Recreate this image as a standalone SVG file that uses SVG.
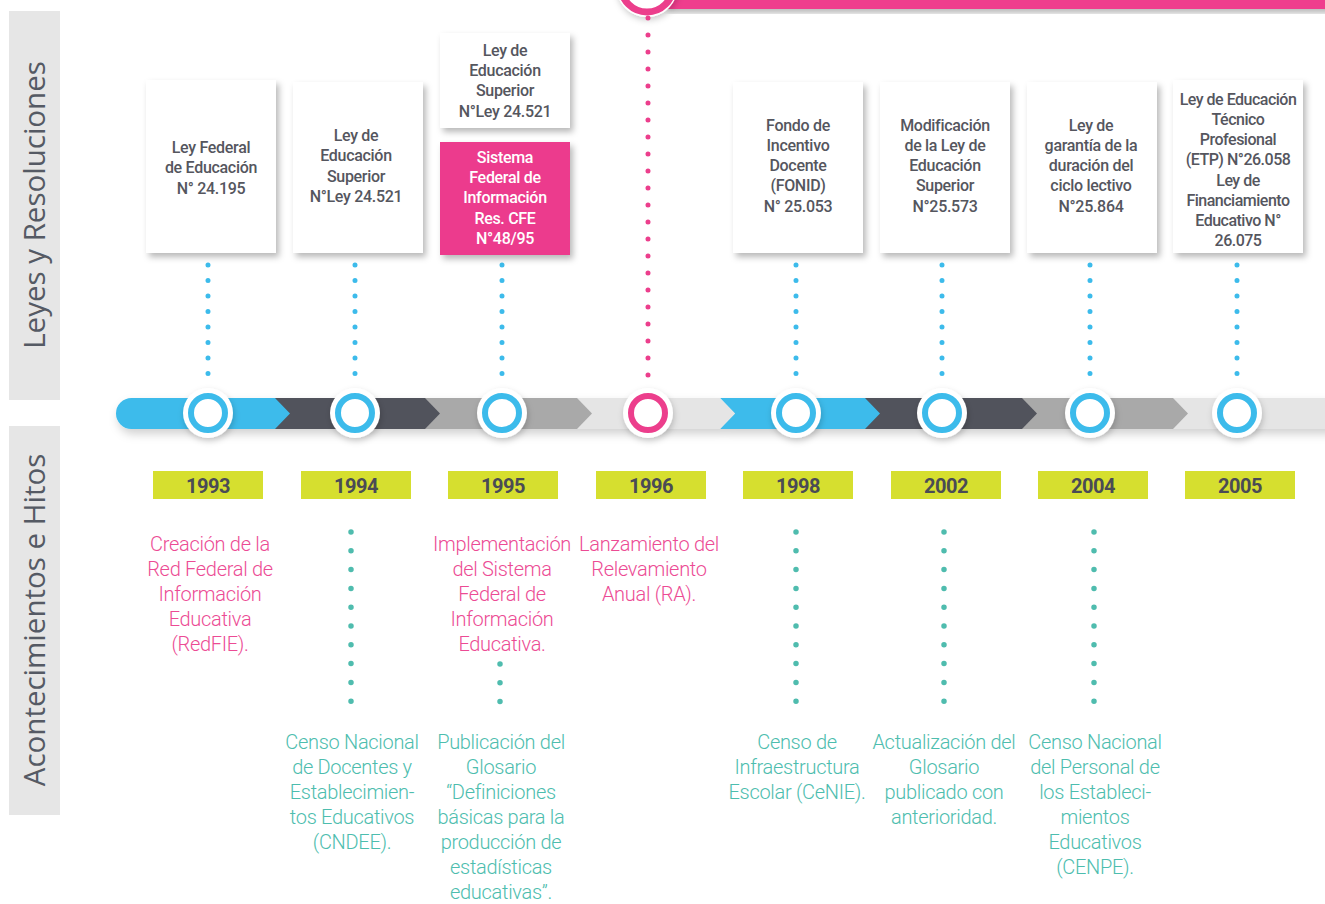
<svg xmlns="http://www.w3.org/2000/svg" width="1325" height="904" viewBox="0 0 1325 904">
<defs>
<filter id="sh" x="-20%" y="-20%" width="150%" height="150%"><feDropShadow dx="3" dy="4" stdDeviation="3" flood-color="#000" flood-opacity="0.28"/></filter>
<filter id="shbar" x="-5%" y="-50%" width="110%" height="250%"><feDropShadow dx="2" dy="5" stdDeviation="5" flood-color="#000" flood-opacity="0.18"/></filter>
<filter id="shc" x="-50%" y="-50%" width="200%" height="200%"><feDropShadow dx="1" dy="3" stdDeviation="3" flood-color="#000" flood-opacity="0.2"/></filter>
</defs>
<style>
.side{fill:#e6e6e6}
.sidet{font-family:"Open Sans",sans-serif;font-weight:400;font-size:29.5px;fill:#555a64;text-anchor:middle}
.box{fill:#fff;filter:url(#sh)}
.pbox{fill:#ec3b8d;filter:url(#sh)}
.bt{font-family:Roboto,sans-serif;font-weight:500;font-size:16px;letter-spacing:-0.3px;fill:#55565e;text-anchor:middle}
.bw{fill:#fff}
.yr{fill:#d6df2f}
.yt{font-family:Roboto,sans-serif;font-weight:700;font-size:20px;letter-spacing:-0.5px;fill:#4a4b55;text-anchor:middle}
.pt{font-family:Roboto,sans-serif;font-weight:300;font-size:20px;letter-spacing:-0.3px;fill:#ec4b94;text-anchor:middle}
.tt{font-family:Roboto,sans-serif;font-weight:300;font-size:20px;letter-spacing:-0.3px;fill:#4dbdae;text-anchor:middle}
.dblue{stroke:#3cbbeb;stroke-width:5;stroke-linecap:round;stroke-dasharray:0 15.5;fill:none}
.dpink{stroke:#ec3e8c;stroke-width:5;stroke-linecap:round;stroke-dasharray:0 17;fill:none}
.dteal{stroke:#4fbcae;stroke-width:5.5;stroke-linecap:round;stroke-dasharray:0 18.8;fill:none}
.cw{fill:#fff;filter:url(#shc)}
.cb{fill:#fff;stroke:#3cbbeb;stroke-width:6}
.cp{fill:#fff;stroke:#ec3e8c;stroke-width:6}
</style>

<!-- side labels -->
<g id="label-leyes">
<rect class="side" x="9" y="11" width="51" height="389"/>
<text class="sidet" transform="translate(45,205) rotate(-90)">Leyes y Resoluciones</text>
</g>
<g id="label-hitos">
<rect class="side" x="9" y="426" width="51" height="389"/>
<text class="sidet" transform="translate(45,620) rotate(-90)">Acontecimientos e Hitos</text>
</g>

<!-- top pink bar -->
<g id="top-bar">
<rect x="665" y="-5" width="665" height="14" fill="#ef3e8d" filter="url(#sh)"/>
<circle cx="647" cy="-14" r="31" fill="#fff" filter="url(#shc)"/>
<circle cx="647" cy="-14" r="26" fill="#fff" stroke="#ec3e8c" stroke-width="7"/>
</g>

<!-- connectors -->
<g id="connectors">
<line class="dblue" x1="208" y1="265" x2="208" y2="382"/>
<line class="dblue" x1="355" y1="265" x2="355" y2="382"/>
<line class="dblue" x1="502" y1="265" x2="502" y2="382"/>
<line class="dpink" x1="648" y1="18" x2="648" y2="382"/>
<line class="dblue" x1="796" y1="265" x2="796" y2="382"/>
<line class="dblue" x1="942" y1="265" x2="942" y2="382"/>
<line class="dblue" x1="1090" y1="265" x2="1090" y2="382"/>
<line class="dblue" x1="1237" y1="265" x2="1237" y2="382"/>
<line class="dteal" x1="351" y1="532" x2="351" y2="702"/>
<line class="dteal" x1="500" y1="664" x2="500" y2="702"/>
<line class="dteal" x1="796" y1="532" x2="796" y2="702"/>
<line class="dteal" x1="944" y1="532" x2="944" y2="702"/>
<line class="dteal" x1="1094" y1="532" x2="1094" y2="702"/>
</g>

<!-- timeline bar -->
<g id="timeline" filter="url(#shbar)">
<rect x="1173" y="398" width="160" height="31" fill="#e5e5e5"/>
<path d="M1022 398H1173L1188 413.5L1173 429H1022Z" fill="#a9a9a9"/>
<path d="M865 398H1022L1037 413.5L1022 429H865Z" fill="#51535c"/>
<path d="M720 398H865L880 413.5L865 429H720L735 413.5Z" fill="#3cbbeb"/>
<path d="M577 398H720L735 413.5L720 429H577Z" fill="#e5e5e5"/>
<path d="M425 398H577L592 413.5L577 429H425Z" fill="#a9a9a9"/>
<path d="M275 398H425L440 413.5L425 429H275Z" fill="#51535c"/>
<path d="M131.5 398H275L290 413.5L275 429H131.5A15.5 15.5 0 0 1 131.5 398Z" fill="#3cbbeb"/>
</g>

<g id="c1993"><circle class="cw" cx="208" cy="413" r="25"/><circle class="cb" cx="208" cy="413" r="17"/></g>
<g id="c1994"><circle class="cw" cx="355" cy="413" r="25"/><circle class="cb" cx="355" cy="413" r="17"/></g>
<g id="c1995"><circle class="cw" cx="502" cy="413" r="25"/><circle class="cb" cx="502" cy="413" r="17"/></g>
<g id="c1996"><circle class="cw" cx="648" cy="413" r="25"/><circle class="cp" cx="648" cy="413" r="17"/></g>
<g id="c1998"><circle class="cw" cx="796" cy="413" r="25"/><circle class="cb" cx="796" cy="413" r="17"/></g>
<g id="c2002"><circle class="cw" cx="942" cy="413" r="25"/><circle class="cb" cx="942" cy="413" r="17"/></g>
<g id="c2004"><circle class="cw" cx="1090" cy="413" r="25"/><circle class="cb" cx="1090" cy="413" r="17"/></g>
<g id="c2005"><circle class="cw" cx="1237" cy="413" r="25"/><circle class="cb" cx="1237" cy="413" r="17"/></g>

<!-- law boxes -->
<g id="ley-1993">
<rect class="box" x="146" y="80" width="130" height="173"/>
<text class="bt"><tspan x="211" y="153">Ley Federal</tspan><tspan x="211" y="173">de Educación</tspan><tspan x="211" y="194">N° 24.195</tspan></text>
</g>
<g id="ley-1994">
<rect class="box" x="293" y="82" width="130" height="171"/>
<text class="bt"><tspan x="356" y="141">Ley de</tspan><tspan x="356" y="161">Educación</tspan><tspan x="356" y="182">Superior</tspan><tspan x="356" y="202">N°Ley 24.521</tspan></text>
</g>
<g id="ley-1995a">
<rect class="box" x="440" y="33" width="130" height="95"/>
<text class="bt"><tspan x="505" y="56">Ley de</tspan><tspan x="505" y="76">Educación</tspan><tspan x="505" y="96">Superior</tspan><tspan x="505" y="117">N°Ley 24.521</tspan></text>
</g>
<g id="ley-1995b">
<rect class="pbox" x="440" y="142" width="130" height="113"/>
<text class="bt bw"><tspan x="505" y="163">Sistema</tspan><tspan x="505" y="183">Federal de</tspan><tspan x="505" y="203">Información</tspan><tspan x="505" y="224">Res. CFE</tspan><tspan x="505" y="244">N°48/95</tspan></text>
</g>
<g id="ley-1998">
<rect class="box" x="733" y="82" width="130" height="171"/>
<text class="bt"><tspan x="798" y="131">Fondo de</tspan><tspan x="798" y="151">Incentivo</tspan><tspan x="798" y="171">Docente</tspan><tspan x="798" y="191">(FONID)</tspan><tspan x="798" y="212">N° 25.053</tspan></text>
</g>
<g id="ley-2002">
<rect class="box" x="880" y="82" width="130" height="171"/>
<text class="bt"><tspan x="945" y="131">Modificación</tspan><tspan x="945" y="151">de la Ley de</tspan><tspan x="945" y="171">Educación</tspan><tspan x="945" y="191">Superior</tspan><tspan x="945" y="212">N°25.573</tspan></text>
</g>
<g id="ley-2004">
<rect class="box" x="1027" y="82" width="130" height="171"/>
<text class="bt"><tspan x="1091" y="131">Ley de</tspan><tspan x="1091" y="151">garantía de la</tspan><tspan x="1091" y="171">duración del</tspan><tspan x="1091" y="191">ciclo lectivo</tspan><tspan x="1091" y="212">N°25.864</tspan></text>
</g>
<g id="ley-2005">
<rect class="box" x="1173" y="80" width="130" height="173"/>
<text class="bt" style="letter-spacing:-0.5px"><tspan x="1238" y="105">Ley de Educación</tspan><tspan x="1238" y="125">Técnico</tspan><tspan x="1238" y="145">Profesional</tspan><tspan x="1238" y="165">(ETP) N°26.058</tspan><tspan x="1238" y="186">Ley de</tspan><tspan x="1238" y="206">Financiamiento</tspan><tspan x="1238" y="226">Educativo N°</tspan><tspan x="1238" y="246">26.075</tspan></text>
</g>

<!-- years -->
<g id="y1993"><rect class="yr" x="153" y="471" width="110" height="28"/><text class="yt" x="208" y="493">1993</text></g>
<g id="y1994"><rect class="yr" x="301" y="471" width="110" height="28"/><text class="yt" x="356" y="493">1994</text></g>
<g id="y1995"><rect class="yr" x="448" y="471" width="110" height="28"/><text class="yt" x="503" y="493">1995</text></g>
<g id="y1996"><rect class="yr" x="596" y="471" width="110" height="28"/><text class="yt" x="651" y="493">1996</text></g>
<g id="y1998"><rect class="yr" x="743" y="471" width="110" height="28"/><text class="yt" x="798" y="493">1998</text></g>
<g id="y2002"><rect class="yr" x="891" y="471" width="110" height="28"/><text class="yt" x="946" y="493">2002</text></g>
<g id="y2004"><rect class="yr" x="1038" y="471" width="110" height="28"/><text class="yt" x="1093" y="493">2004</text></g>
<g id="y2005"><rect class="yr" x="1185" y="471" width="110" height="28"/><text class="yt" x="1240" y="493">2005</text></g>

<!-- events -->
<g id="ev-1993"><text class="pt"><tspan x="210" y="551">Creación de la</tspan><tspan x="210" y="576">Red Federal de</tspan><tspan x="210" y="601">Información</tspan><tspan x="210" y="626">Educativa</tspan><tspan x="210" y="651">(RedFIE).</tspan></text></g>
<g id="ev-1995a"><text class="pt"><tspan x="502" y="551">Implementación</tspan><tspan x="502" y="576">del Sistema</tspan><tspan x="502" y="601">Federal de</tspan><tspan x="502" y="626">Información</tspan><tspan x="502" y="651">Educativa.</tspan></text></g>
<g id="ev-1996"><text class="pt"><tspan x="649" y="551">Lanzamiento del</tspan><tspan x="649" y="576">Relevamiento</tspan><tspan x="649" y="601">Anual (RA).</tspan></text></g>
<g id="ev-1994"><text class="tt"><tspan x="352" y="749">Censo Nacional</tspan><tspan x="352" y="774">de Docentes y</tspan><tspan x="352" y="799">Establecimien-</tspan><tspan x="352" y="824">tos Educativos</tspan><tspan x="352" y="849">(CNDEE).</tspan></text></g>
<g id="ev-1995b"><text class="tt"><tspan x="501" y="749">Publicación del</tspan><tspan x="501" y="774">Glosario</tspan><tspan x="501" y="799">“Definiciones</tspan><tspan x="501" y="824">básicas para la</tspan><tspan x="501" y="849">producción de</tspan><tspan x="501" y="874">estadísticas</tspan><tspan x="501" y="899">educativas”.</tspan></text></g>
<g id="ev-1998"><text class="tt"><tspan x="797" y="749">Censo de</tspan><tspan x="797" y="774">Infraestructura</tspan><tspan x="797" y="799">Escolar (CeNIE).</tspan></text></g>
<g id="ev-2002"><text class="tt"><tspan x="944" y="749">Actualización del</tspan><tspan x="944" y="774">Glosario</tspan><tspan x="944" y="799">publicado con</tspan><tspan x="944" y="824">anterioridad.</tspan></text></g>
<g id="ev-2004"><text class="tt"><tspan x="1095" y="749">Censo Nacional</tspan><tspan x="1095" y="774">del Personal de</tspan><tspan x="1095" y="799">los Estableci-</tspan><tspan x="1095" y="824">mientos</tspan><tspan x="1095" y="849">Educativos</tspan><tspan x="1095" y="874">(CENPE).</tspan></text></g>
</svg>
